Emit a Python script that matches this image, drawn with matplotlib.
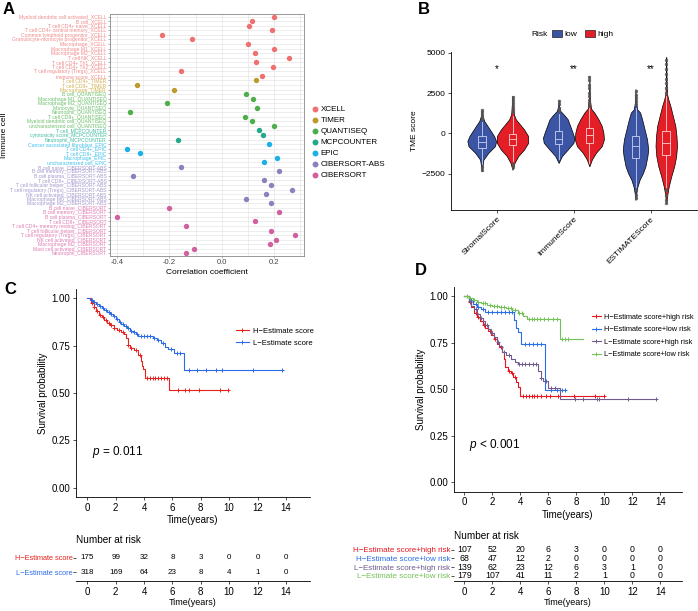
import matplotlib
matplotlib.use("Agg")
import matplotlib.pyplot as plt
from matplotlib.lines import Line2D
from matplotlib.patches import Patch
import numpy as np

plt.rcParams["font.family"] = ["Liberation Sans", "DejaVu Sans"]
plt.rcParams["mathtext.fontset"] = "custom"
plt.rcParams["mathtext.it"] = "Liberation Sans:italic"
plt.rcParams["mathtext.rm"] = "Liberation Sans"

W, H = 698, 611

# ---------------- panel A: immune infiltration correlation ----------------
methods = ["XCELL", "TIMER", "QUANTISEQ", "MCPCOUNTER", "EPIC", "CIBERSORT-ABS", "CIBERSORT"]
method_colors = ["#EE7070", "#BE9A2E", "#4DAF4A", "#22A88A", "#1CB0E6", "#8D80BE", "#D2609F"]
label_colors = ["#F08A8A", "#D2B050", "#6CC06A", "#40BCA0", "#40C0EC", "#A498CC", "#E07CB4"]

cells_xcell = ["Myeloid dendritic cell activated", "B cell", "T cell CD4+ naive",
               "T cell CD4+ central memory", "Common lymphoid progenitor",
               "Granulocyte-monocyte progenitor", "Macrophage", "Macrophage M1",
               "Macrophage M2", "T cell NK", "T cell CD4+ Th1", "T cell CD4+ Th2",
               "T cell regulatory (Tregs)", "immune score"]
corr_xcell = [0.198, 0.117, 0.104, 0.192, -0.227, -0.115, 0.099, 0.200, 0.126, 0.258,
              0.132, 0.196, -0.157, 0.154]
cells_timer = ["T cell CD4+", "T cell CD8+", "Macrophage"]
corr_timer = [0.130, -0.325, -0.182]
cells_quantiseq = ["B cell", "Macrophage M1", "Macrophage M2", "Monocyte", "Neutrophil",
                   "T cell CD8+", "Myeloid dendritic cell", "uncharacterized cell"]
corr_quantiseq = [0.094, 0.120, -0.210, 0.133, -0.350, 0.089, 0.115, 0.200]
cells_mcp = ["T cell", "cytotoxicity score", "Neutrophil"]
corr_mcp = [0.141, 0.159, -0.166]
cells_epic = ["Cancer associated fibroblast", "T cell CD4+", "T cell CD8+", "Macrophage",
              "uncharacterized cell"]
corr_epic = [0.179, -0.362, -0.314, 0.212, 0.160]
cells_cibabs = ["B cell naive", "B cell memory", "B cell plasma", "T cell CD8+",
                "T cell follicular helper", "T cell regulatory (Tregs)", "NK cell activated",
                "Macrophage M0", "Macrophage M2"]
corr_cibabs = [-0.156, 0.217, -0.338, 0.161, 0.189, 0.270, 0.168, 0.094, 0.187]
cells_cib = ["B cell naive", "B cell memory", "B cell plasma", "T cell CD8+",
             "T cell CD4+ memory resting", "T cell follicular helper",
             "T cell regulatory (Tregs)", "NK cell activated", "Macrophage M2",
             "Mast cell activated", "Neutrophil"]
corr_cib = [-0.203, 0.217, -0.399, 0.128, -0.137, 0.189, 0.281, 0.206, 0.183, -0.108, -0.138]

cells_by_method = [cells_xcell, cells_timer, cells_quantiseq, cells_mcp, cells_epic,
                   cells_cibabs, cells_cib]
corr_by_method = [corr_xcell, corr_timer, corr_quantiseq, corr_mcp, corr_epic,
                  corr_cibabs, corr_cib]

# ---------------- panel B: TME scores ----------------
tme_scores = ["StromalScore", "ImmuneScore", "ESTIMATEScore"]
risk_groups = ["low", "high"]
risk_colors = {"low": "#3B54A4", "high": "#E41E26"}
risk_box_edge = {"low": "#C9D2F2", "high": "#FFD2D2"}
signif = ["*", "**", "**"]

# violin outlines: score values and relative density
violin_vals = {
    ("StromalScore", "low"): [-2350, -1625, -1200, -790, -480, -170, 150, 460, 770, 1080, 1500],
    ("StromalScore", "high"): [-2250, -1830, -1400, -1000, -580, -170, 250, 560, 875, 1190, 2100, 2330],
    ("ImmuneScore", "low"): [-1830, -1400, -1000, -580, -270, 40, 460, 875, 1125, 1400, 1700, 2100],
    ("ImmuneScore", "high"): [-2040, -1620, -1200, -790, -375, 40, 460, 875, 1290, 1540, 2125, 3580],
    ("ESTIMATEScore", "low"): [-4125, -3700, -3290, -2870, -2460, -2040, -1415, -1000, -375, 250,
                               875, 1290, 1500, 1900, 2750],
    ("ESTIMATEScore", "high"): [-4330, -3700, -3290, -2670, -2040, -1415, -790, -170, 460, 1080,
                                1700, 2125, 2440, 3160, 4730],
}
violin_dens = {
    ("StromalScore", "low"): [0, 0.10, 0.40, 0.80, 0.87, 0.75, 0.55, 0.35, 0.15, 0.05, 0],
    ("StromalScore", "high"): [0, 0.12, 0.35, 0.70, 0.95, 0.95, 0.70, 0.45, 0.20, 0.08, 0.02, 0],
    ("ImmuneScore", "low"): [0, 0.20, 0.55, 0.90, 0.95, 0.85, 0.70, 0.55, 0.35, 0.10, 0.03, 0],
    ("ImmuneScore", "high"): [0, 0.15, 0.40, 0.75, 0.88, 0.85, 0.75, 0.55, 0.30, 0.10, 0.03, 0],
    ("ESTIMATEScore", "low"): [0, 0.05, 0.12, 0.25, 0.45, 0.60, 0.72, 0.77, 0.70, 0.55, 0.40,
                               0.28, 0.10, 0.04, 0],
    ("ESTIMATEScore", "high"): [0, 0.08, 0.15, 0.30, 0.48, 0.60, 0.65, 0.62, 0.55, 0.40, 0.25,
                                0.12, 0.05, 0.02, 0],
}
# box stats: (whisker low, q1, median, q3, whisker high)
box_stats = {
    ("StromalScore", "low"): (-1900, -900, -540, -170, 700),
    ("StromalScore", "high"): (-1730, -690, -375, -60, 1080),
    ("ImmuneScore", "low"): (-1600, -650, -330, 150, 1200),
    ("ImmuneScore", "high"): (-1850, -580, -125, 350, 1550),
    ("ESTIMATEScore", "low"): (-3300, -1520, -790, -170, 1600),
    ("ESTIMATEScore", "high"): (-3300, -1310, -580, 150, 2300),
}
box_outliers = {
    ("StromalScore", "low"): [900, 1000, 1150, 1300, 1450, -2100, -2250],
    ("StromalScore", "high"): [1300, 1500, 1700, 1900, 2100, 2250, -1900, -2100],
    ("ImmuneScore", "low"): [1400, 1600, 1800, 2000],
    ("ImmuneScore", "high"): [1700, 1900, 2100, 2300, 2500, 2800, 3000, 3300, 3500],
    ("ESTIMATEScore", "low"): [1800, 2000, 2200, 2400, 2600, -3500, -3800, -4000],
    ("ESTIMATEScore", "high"): [2500, 2800, 3100, 3400, 3700, 4000, 4300, 4550,
                                -3500, -3800, -4100, -4300],
}

# ---------------- panel C: KM by estimate score ----------------
c_names = ["H\u2212Estimate score", "L\u2212Estimate score"]
c_colors = ["#E8231F", "#2E6BE6"]
c_times = [
    [0, 0.25, 0.45, 0.6, 0.8, 1.0, 1.2, 1.4, 1.6, 1.85, 2.1, 2.35, 2.6, 2.75, 2.85, 3.0, 3.3,
     3.6, 3.75, 3.85, 3.95, 4.05, 5.75],
    [0, 0.2, 0.4, 0.6, 0.8, 1.0, 1.2, 1.4, 1.6, 1.8, 2.0, 2.2, 2.4, 2.6, 2.8, 3.0, 3.2, 3.4,
     3.6, 4.6, 4.9, 5.2, 5.5, 5.7, 6.1, 6.8],
]
c_surv = [
    [1, 0.975, 0.955, 0.935, 0.915, 0.9, 0.885, 0.87, 0.86, 0.845, 0.835, 0.82, 0.81, 0.79,
     0.755, 0.74, 0.725, 0.70, 0.67, 0.645, 0.625, 0.58, 0.515],
    [1, 0.99, 0.98, 0.97, 0.96, 0.95, 0.94, 0.93, 0.92, 0.905, 0.89, 0.875, 0.865, 0.855,
     0.845, 0.83, 0.82, 0.81, 0.80, 0.79, 0.78, 0.765, 0.745, 0.735, 0.71, 0.62],
]
c_end = [10.0, 13.8]
c_censor = [
    [0.3, 0.5, 0.7, 0.9, 1.1, 1.3, 1.5, 1.7, 1.9, 2.2, 2.5, 2.9, 3.1, 3.4, 3.7, 4.2, 4.4, 4.6,
     4.8, 5.0, 5.2, 5.4, 5.6, 6.4, 6.9, 7.2, 7.9, 9.35, 9.95],
    [0.3, 0.5, 0.7, 0.9, 1.1, 1.3, 1.5, 1.7, 1.9, 2.1, 2.3, 2.5, 2.7, 2.9, 3.1, 3.3, 3.5, 3.8,
     4.0, 4.2, 4.4, 4.7, 5.0, 5.3, 5.9, 6.3, 6.5, 7.2, 7.7, 8.4, 9.05, 9.5, 11.7, 13.75],
]
c_risk = [[175, 99, 32, 8, 3, 0, 0, 0], [318, 169, 64, 23, 8, 4, 1, 0]]

# ---------------- panel D: KM by estimate score + risk ----------------
d_names = ["H\u2212Estimate score+high risk", "H\u2212Estimate score+low risk",
           "L\u2212Estimate score+high risk", "L\u2212Estimate score+low risk"]
d_colors = ["#E8161F", "#2B6FE8", "#6F5B8E", "#72C257"]
d_times = [
    [0, 0.3, 0.5, 0.7, 0.9, 1.1, 1.3, 1.5, 1.7, 1.9, 2.1, 2.3, 2.5, 2.7, 2.8, 2.9, 3.1, 3.3,
     3.5, 3.7, 3.85, 4.0],
    [0, 0.3, 0.6, 0.9, 1.2, 1.5, 3.55, 3.7, 3.85, 4.05, 5.75],
    [0, 0.3, 0.5, 0.7, 0.9, 1.1, 1.3, 1.5, 1.7, 1.9, 2.1, 2.3, 2.5, 2.7, 3.0, 3.3, 3.6, 3.8,
     5.25, 5.45, 5.65, 5.95, 6.85],
    [0, 0.3, 0.6, 0.9, 1.2, 1.6, 2.0, 2.5, 3.0, 3.4, 3.8, 4.2, 4.5, 6.8],
]
d_surv = [
    [1, 0.97, 0.94, 0.91, 0.89, 0.865, 0.845, 0.83, 0.815, 0.79, 0.77, 0.745, 0.725, 0.70,
     0.665, 0.62, 0.60, 0.585, 0.565, 0.54, 0.51, 0.465],
    [1, 0.98, 0.96, 0.945, 0.93, 0.915, 0.875, 0.83, 0.81, 0.745, 0.497],
    [1, 0.975, 0.95, 0.93, 0.905, 0.885, 0.865, 0.845, 0.825, 0.80, 0.78, 0.755, 0.73, 0.70,
     0.685, 0.665, 0.645, 0.635, 0.60, 0.56, 0.545, 0.505, 0.445],
    [1, 0.99, 0.98, 0.97, 0.962, 0.955, 0.95, 0.945, 0.935, 0.925, 0.91, 0.895, 0.88, 0.77],
]
d_end = [10.0, 7.2, 13.7, 8.5]
d_censor = [
    [0.4, 0.8, 1.0, 1.4, 1.8, 2.2, 2.6, 3.2, 3.4, 3.6, 4.2, 4.4, 4.6, 4.8, 5.0, 5.2, 5.5,
     5.8, 6.1, 6.7, 7.8, 9.35, 9.95],
    [0.5, 0.8, 1.0, 1.3, 1.7, 2.0, 2.3, 2.6, 2.9, 3.2, 3.4, 4.3, 4.6, 4.9, 5.2, 5.5, 6.2,
     6.6, 7.0, 7.2],
    [0.4, 0.8, 1.2, 1.6, 2.0, 2.4, 2.8, 3.2, 3.9, 4.1, 4.3, 4.6, 4.9, 5.1, 5.5, 5.8, 6.2,
     6.5, 7.9, 8.5, 9.5, 9.6, 11.7, 13.7],
    [0.2, 0.4, 0.7, 1.0, 1.3, 1.5, 1.8, 2.1, 2.3, 2.6, 2.8, 3.1, 3.3, 3.6, 3.9, 4.1, 4.6,
     4.8, 5.0, 5.2, 5.4, 5.7, 6.0, 6.3, 6.6, 7.0, 7.2, 7.4],
]
d_risk = [[107, 52, 20, 6, 3, 0, 0, 0], [68, 47, 12, 2, 0, 0, 0, 0],
          [139, 62, 23, 12, 6, 3, 1, 0], [179, 107, 41, 11, 2, 1, 0, 0]]

risk_times = [0, 2, 4, 6, 8, 10, 12, 14]


def px_axes(fig, left, top, right, bottom):
    return fig.add_axes([left / W, 1 - bottom / H, (right - left) / W, (bottom - top) / H])


def classic(ax, size=7):
    for s in ["top", "right"]:
        ax.spines[s].set_visible(False)
    for s in ["left", "bottom"]:
        ax.spines[s].set_linewidth(0.6)
    ax.tick_params(labelsize=size, width=0.6, length=2.5, pad=1.5, color="#333333")


def km_plot(ax, times, surv, t_end, cens, color):
    t = np.append(times, t_end)
    s = np.append(surv, surv[-1])
    ax.step(t, s, where="post", color=color, lw=0.8)
    idx = np.searchsorted(times, cens, side="right") - 1
    ax.plot(cens, np.asarray(surv)[idx], ls="none", marker="+", color=color, ms=3.5, mew=0.7)


def risk_table(ax, names, colors, counts, xlim, num_size, name_size):
    n = len(names)
    classic(ax, 7)
    for r, row in enumerate(counts):
        for t, v in zip(risk_times, row):
            ax.text(t, r + 1, str(v), ha="center", va="center", fontsize=num_size)
    ax.set_xlim(*xlim)
    ax.set_ylim(n + 0.62, 0.38)
    ax.set_yticks(range(1, n + 1))
    ax.set_yticklabels(names)
    ax.tick_params(axis="y", labelsize=name_size, length=2, pad=0.5)
    for lab, c in zip(ax.get_yticklabels(), colors):
        lab.set_color(c)
    ax.set_xticks(risk_times)
    ax.spines["left"].set_visible(False)
    ax.set_xlabel("Time(years)", fontsize=6.5, labelpad=1)


fig = plt.figure(figsize=(W / 100, H / 100), dpi=100)

# ---------- A ----------
axA = px_axes(fig, 110, 14, 304, 256)
labels_a, label_cols, row = [], [], 1
for m, cells, vals, col, lcol in zip(methods, cells_by_method, corr_by_method,
                                     method_colors, label_colors):
    ys = np.arange(row, row + len(cells))
    axA.scatter(vals, ys, s=15, color=col, linewidths=0, zorder=3, label=m)
    labels_a += [f"{c}_{m}" for c in cells]
    label_cols += [lcol] * len(cells)
    row += len(cells)
n_rows = row - 1
axA.set_ylim(n_rows + 0.6, 0.4)
axA.set_xlim(-0.427, 0.314)
axA.set_yticks(np.arange(1, n_rows + 1))
axA.set_yticklabels(labels_a, fontsize=3.6)
for lab, c in zip(axA.get_yticklabels(), label_cols):
    lab.set_color(c)
axA.set_xticks([-0.4, -0.2, 0.0, 0.2])
axA.set_xticklabels(["-0.4", "-0.2", "0.0", "0.2"], fontsize=5.5, color="#444444")
axA.set_xticks([-0.3, -0.1, 0.1, 0.3], minor=True)
axA.grid(True, which="both", color="#E3E3E3", lw=0.45)
axA.set_axisbelow(True)
axA.tick_params(axis="both", which="both", length=1.5, width=0.4, pad=1, color="#777777")
axA.tick_params(axis="x", which="minor", length=0)
for s in axA.spines.values():
    s.set_color("#888888")
    s.set_linewidth(0.6)
axA.set_xlabel("Correlation coefficient", fontsize=6, labelpad=2)
fig.text(5 / W, 1 - 135 / H, "Immune cell", rotation=90, fontsize=6, ha="center", va="center")
handA, labA = axA.get_legend_handles_labels()
fig.legend(handA, labA, loc="upper left", bbox_to_anchor=(306 / W, 1 - 101 / H),
           frameon=False, fontsize=5.8, handletextpad=0.1, labelspacing=0.42,
           borderpad=0, handlelength=1.2, markerscale=1.1)

# ---------- B ----------
axB = px_axes(fig, 451, 52, 697, 210)
vscale = 0.215
for i, sc in enumerate(tme_scores):
    for grp, off in zip(risk_groups, [-0.2, 0.2]):
        key = (sc, grp)
        cx = i + 1 + off
        v = np.asarray(violin_vals[key])
        d = np.asarray(violin_dens[key]) * vscale
        axB.fill_betweenx(v, cx - d, cx + d, facecolor=risk_colors[grp], edgecolor="black",
                          lw=0.5, zorder=2)
        wl, q1, med, q3, wh = box_stats[key]
        st = dict(med=med, q1=q1, q3=q3, whislo=wl, whishi=wh, fliers=box_outliers[key])
        edge = risk_box_edge[grp]
        axB.bxp([st], positions=[cx], widths=0.1, patch_artist=True, manage_ticks=False,
                boxprops=dict(facecolor=risk_colors[grp], edgecolor=edge, lw=0.6),
                medianprops=dict(color=edge, lw=0.6),
                whiskerprops=dict(color=edge, lw=0.6),
                capprops=dict(lw=0),
                flierprops=dict(marker="s", markersize=1.3, markerfacecolor="#555555",
                                markeredgecolor="#555555", alpha=0.8),
                zorder=3)
    axB.text(i + 1, 3700, signif[i], ha="center", va="bottom", fontsize=7)
axB.set_xlim(0.4, 3.6)
axB.set_ylim(-4745, 5045)
axB.set_yticks([-2500, 0, 2500, 5000])
axB.set_xticks([1, 2, 3])
axB.set_xticklabels(tme_scores, rotation=45, ha="right", rotation_mode="anchor")
classic(axB, 6)
axB.set_ylabel("TME score", fontsize=6, labelpad=3)
fig.text(531 / W, 1 - 34 / H, "Risk", fontsize=6, va="center")
handB = [Patch(facecolor=risk_colors[g], edgecolor="#222222", lw=0.5) for g in risk_groups]
fig.legend(handB, risk_groups, loc="center left", bbox_to_anchor=(548 / W, 1 - 34 / H),
           ncol=2, frameon=False, fontsize=6, handlelength=1.2, handleheight=1.0,
           handletextpad=0.3, columnspacing=0.9, borderpad=0)

# ---------- C ----------
xl_c = (-0.8, 15.7)
axC = px_axes(fig, 76, 289, 310, 497)
for t, s, e, cz, col in zip(c_times, c_surv, c_end, c_censor, c_colors):
    km_plot(axC, t, s, e, cz, col)
axC.set_xlim(*xl_c)
axC.set_ylim(-0.05, 1.05)
axC.set_xticks(risk_times)
axC.set_yticks([0, 0.25, 0.5, 0.75, 1.0])
axC.set_yticklabels(["0.00", "0.25", "0.50", "0.75", "1.00"])
classic(axC, 7)
axC.set_ylabel("Survival probability", fontsize=7, labelpad=3)
axC.set_xlabel("Time(years)", fontsize=7, labelpad=2)
axC.text(0.3, 0.19, "$p$ = 0.011", fontsize=8.5, va="center")
handC = [Line2D([], [], color=c, lw=0.8, marker="+", ms=3.5, mew=0.7) for c in c_colors]
axC.legend(handC, c_names, loc="upper left", bbox_to_anchor=(156 / 234, 1 - 35 / 208),
           frameon=False, fontsize=5.5, handlelength=1.7, handletextpad=0.5,
           labelspacing=0.6, borderpad=0)
tC = px_axes(fig, 76, 549, 310, 581)
risk_table(tC, c_names, c_colors, c_risk, xl_c, 5.8, 5.3)
fig.text(76 / W, 1 - 540 / H, "Number at risk", fontsize=7.2, va="center")

# ---------- D ----------
xl_d = (-0.74, 15.55)
axD = px_axes(fig, 454, 287, 682, 491.5)
for t, s, e, cz, col in zip(d_times, d_surv, d_end, d_censor, d_colors):
    km_plot(axD, t, s, e, cz, col)
axD.set_xlim(*xl_d)
axD.set_ylim(-0.05, 1.05)
axD.set_xticks(risk_times)
axD.set_yticks([0, 0.25, 0.5, 0.75, 1.0])
axD.set_yticklabels(["0.00", "0.25", "0.50", "0.75", "1.00"])
classic(axD, 7)
axD.set_ylabel("Survival probability", fontsize=7, labelpad=3)
axD.set_xlabel("Time(years)", fontsize=7, labelpad=2)
axD.text(0.3, 0.2, "$p$ < 0.001", fontsize=8.5, va="center")
handD = [Line2D([], [], color=c, lw=0.8, marker="+", ms=3.5, mew=0.7) for c in d_colors]
axD.legend(handD, d_names, loc="upper left", bbox_to_anchor=(134 / 228, 1 - 23 / 204),
           frameon=False, fontsize=5.3, handlelength=1.3, handletextpad=0.4,
           labelspacing=0.72, borderpad=0)
tD = px_axes(fig, 454, 544.5, 682, 581)
risk_table(tD, d_names, d_colors, d_risk, xl_d, 6.3, 5.8)
fig.text(454 / W, 1 - 536 / H, "Number at risk", fontsize=7.2, va="center")

# panel letters
for letter, x, y in [("A", 3, 9), ("B", 418, 9), ("C", 4, 289), ("D", 415, 271)]:
    fig.text(x / W, 1 - y / H, letter, fontsize=12, fontweight="bold", va="center")

fig.savefig("out.png", dpi=100)
